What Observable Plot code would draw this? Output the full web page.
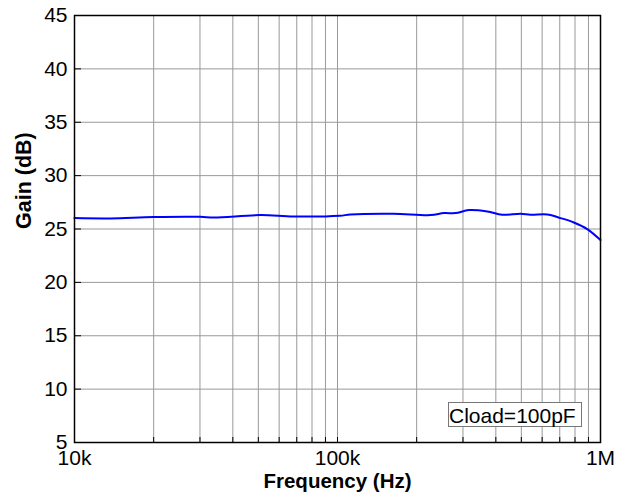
<!DOCTYPE html>
<html>
<head>
<meta charset="utf-8">
<script src="https://cdn.jsdelivr.net/npm/d3@7"></script>
<script src="https://cdn.jsdelivr.net/npm/@observablehq/plot@0.6"></script>
<style>
  body { margin: 0; background: #fff; }
  #wrap { position: relative; width: 630px; height: 497px; font-family: "Liberation Sans", Arial, sans-serif; }
  #legend { position: absolute; left: 448px; top: 402px; width: 134px; height: 25px; border: 1px solid #777;
            font-size: 21px; line-height: 25px; text-align: left; padding-left: 0px; color: #000; background: #fff;
            box-sizing: border-box; white-space: nowrap; }
</style>
</head>
<body>
<div id="wrap"><div id="legend">Cload=100pF</div></div>
<script>
const freqHz = [10000, 13700, 20000, 30000, 34000, 51000, 68000, 102000, 112000, 163000, 226000, 254000, 281000, 316000, 371000, 423000, 497000, 542000, 627000, 705000, 792000, 890000, 1000000];
const gainDb = [26.02, 25.99, 26.12, 26.14, 26.08, 26.3, 26.17, 26.24, 26.36, 26.43, 26.3, 26.49, 26.49, 26.77, 26.64, 26.33, 26.43, 26.33, 26.36, 26.02, 25.61, 24.99, 23.96];
const xMajorTicks = [1e4, 1e5, 1e6];
const xTickLabels = ["10k", "100k", "1M"];
const xMinor = [2e4, 3e4, 4e4, 5e4, 6e4, 7e4, 8e4, 9e4, 1e5, 2e5, 3e5, 4e5, 5e5, 6e5, 7e5, 8e5, 9e5];
const yTicks = [5, 10, 15, 20, 25, 30, 35, 40, 45];
const yGrid = [10, 15, 20, 25, 30, 35, 40];

const data = freqHz.map((f, i) => ({f, g: gainDb[i]}));
const mt = 15, mb = 55, ml = 74, mr = 30, W = 630, H = 497;
const ph = H - mt - mb, pw = W - ml - mr;

const chart = Plot.plot({
  width: W, height: H,
  marginTop: mt, marginBottom: mb, marginLeft: ml, marginRight: mr,
  style: {fontFamily: "Liberation Sans, Arial, sans-serif", background: "#fff"},
  x: {type: "log", domain: [1e4, 1e6]},
  y: {domain: [5, 45]},
  marks: [
    Plot.ruleX(xMinor, {stroke: "#999", strokeWidth: 1}),
    Plot.ruleY(yGrid, {stroke: "#999", strokeWidth: 1}),
    Plot.ruleX(xMinor, {stroke: "#000", strokeWidth: 1, insetTop: ph - 5}),
    Plot.ruleY(yGrid, {stroke: "#000", strokeWidth: 1, insetRight: pw - 7}),
    Plot.line(data, {x: "f", y: "g", stroke: "#0000ff", strokeWidth: 2, curve: "catmull-rom"}),
    Plot.frame({stroke: "#000", strokeWidth: 1.5}),
    Plot.axisY(yTicks, {tickSize: 0, tickPadding: 7, fontSize: 21, fill: "#000", label: null}),
    Plot.axisX(xMajorTicks, {tickSize: 0, tickPadding: 8, fontSize: 21, fill: "#000", label: null,
      tickFormat: d => xTickLabels[xMajorTicks.indexOf(d)]}),
    Plot.text(["Gain (dB)"], {frameAnchor: "left", rotate: -90, dx: -50, fontSize: 21.5, fontWeight: "bold", fill: "#000"}),
    Plot.text(["Frequency (Hz)"], {frameAnchor: "bottom", dy: 45, fontSize: 20.5, fontWeight: "bold", fill: "#000"})
  ]
});
document.getElementById("wrap").prepend(chart);
</script>
</body>
</html>
